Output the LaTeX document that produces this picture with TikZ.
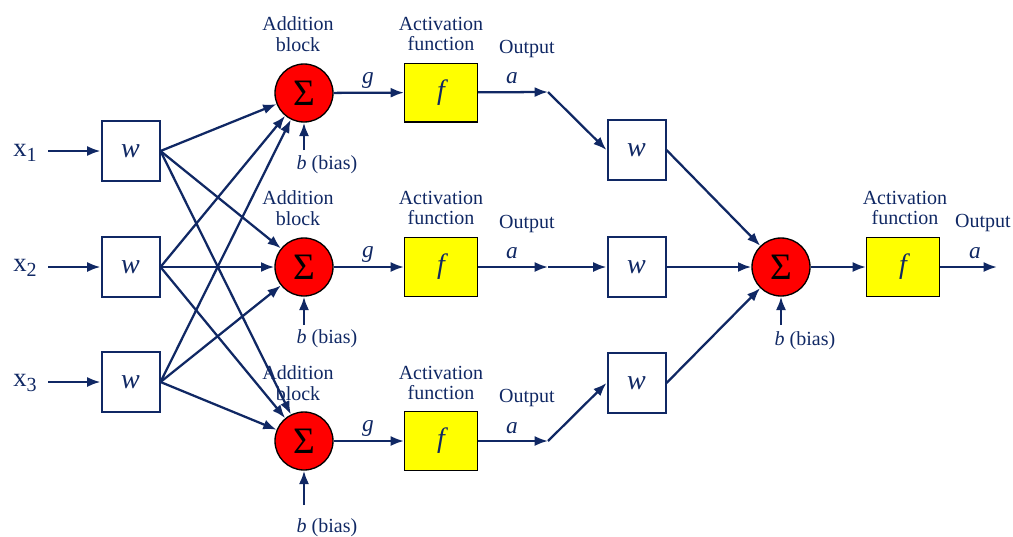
\documentclass[tikz,border=0pt]{standalone}
\usepackage{fontspec}
\setmainfont{Liberation Serif}
\usetikzlibrary{arrows.meta}
\definecolor{navy}{RGB}{16,40,100}
\definecolor{sumred}{RGB}{255,0,0}
\definecolor{fyel}{RGB}{255,255,0}
\tikzset{
  arr/.style={draw=navy,line width=1.7pt,-{Latex[length=10pt,width=7.5pt]}},
  wbox/.style={draw=navy,line width=1.5pt,fill=white,minimum width=43.5pt,minimum height=44.5pt,inner sep=0pt,text=navy,font=\fontsize{21}{21}\selectfont\itshape},
  fbox/.style={draw=black,line width=1pt,fill=fyel,minimum width=54.5pt,minimum height=44pt,inner sep=0pt,text=navy,font=\fontsize{21}{21}\selectfont\itshape},
  sumc/.style={circle,draw=black,line width=1pt,fill=sumred,minimum size=43.5pt,inner sep=0pt,font=\fontsize{28}{28}\selectfont},
  lbl/.style={text=navy,align=center,inner sep=0pt,font=\fontsize{15}{15.5}\selectfont},
  var/.style={text=navy,inner sep=0pt,font=\fontsize{17.5}{17.5}\selectfont\itshape},
  xin/.style={text=navy,inner sep=0pt,font=\fontsize{20}{20}\selectfont},
}
\newcommand{\xsub}[1]{x\raisebox{-0.35ex}{\fontsize{15}{15}\selectfont #1}}
\begin{document}
\begin{tikzpicture}[x=0.75pt,y=-0.75pt]
\useasboundingbox (0,0) rectangle (1013,536);
% inputs
\node[xin] (x1) at (25,153) {\xsub{1}};
\node[xin] (x2) at (25,268) {\xsub{2}};
\node[xin] (x3) at (25,383) {\xsub{3}};
\coordinate (xs1) at (48,151);
\coordinate (xs2) at (48,267);
\coordinate (xs3) at (48,382);
% left weight boxes
\node[wbox] (w1) at (130.5,151) {w};
\node[wbox] (w2) at (130.5,267) {w};
\node[wbox] (w3) at (130.5,382) {w};
% sums
\node[sumc] (s1) at (304,93) {Σ};
\node[sumc] (s2) at (304,267) {Σ};
\node[sumc] (s3) at (304,441) {Σ};
% activation boxes
\node[fbox] (f1) at (441,92.5) {f};
\node[fbox] (f2) at (441,267) {f};
\node[fbox] (f3) at (441,441) {f};
% elbows
\coordinate (e1) at (548,92);
\coordinate (e2) at (548,267);
\coordinate (e3) at (548,441);
% right weight boxes
\node[wbox] (v1) at (636.5,150) {w};
\node[wbox] (v2) at (636.5,267) {w};
\node[wbox] (v3) at (636.5,383) {w};
% output neuron
\node[sumc] (s4) at (781,267) {Σ};
\node[fbox] (f4) at (903,267) {f};
\coordinate (out) at (997,267);
% bias starts
\coordinate (b1) at (304,150);
\coordinate (b2) at (304,325);
\coordinate (b3) at (304,505);
\coordinate (b4) at (781,325);
% labels
\node[lbl] (ab1) at (298,34) {Addition\\block};
\node[lbl] (ab2) at (298,208) {Addition\\block};
\node[lbl] (ab3) at (298,383) {Addition\\block};
\node[lbl] (af1) at (441,34) {Activation\\function};
\node[lbl] (af2) at (441,208) {Activation\\function};
\node[lbl] (af3) at (441,383) {Activation\\function};
\node[lbl] (af4) at (905,208) {Activation\\function};
\node[lbl] (o1) at (527,49) {Output};
\node[lbl] (o2) at (527,224) {Output};
\node[lbl] (o3) at (527,398) {Output};
\node[lbl] (o4) at (983,223) {Output};
\node[var] (g1) at (368,80) {g};
\node[var] (g2) at (368,254) {g};
\node[var] (g3) at (368,428) {g};
\node[var] (a1) at (512,78) {a};
\node[var] (a2) at (512,253) {a};
\node[var] (a3) at (512,428) {a};
\node[var] (a4) at (975,253) {a};
\node[lbl] (bl1) at (327,165) {\textit{b} (bias)};
\node[lbl] (bl2) at (327,339) {\textit{b} (bias)};
\node[lbl] (bl3) at (327,528) {\textit{b} (bias)};
\node[lbl] (bl4) at (805,341) {\textit{b} (bias)};
% connectors
\draw[arr] (xs1) -- (w1);
\draw[arr] (xs2) -- (w2);
\draw[arr] (xs3) -- (w3);
\foreach \w in {w1,w2,w3}{
  \foreach \s in {s1,s2,s3}{
    \draw[arr] (\w.east) -- (\s);
  }
}
\draw[arr] (b1) -- (s1);
\draw[arr] (b2) -- (s2);
\draw[arr] (b3) -- (s3);
\draw[arr] (b4) -- (s4);
\draw[arr] (s1) -- (f1);
\draw[arr] (s2) -- (f2);
\draw[arr] (s3) -- (f3);
\draw[arr] (f1) -- (e1);
\draw[arr] (f2) -- (e2);
\draw[arr] (f3) -- (e3);
\draw[arr] (e1) -- (v1.west);
\draw[arr] (e2) -- (v2.west);
\draw[arr] (e3) -- (v3.west);
\draw[arr] (v1.east) -- (s4);
\draw[arr] (v2.east) -- (s4);
\draw[arr] (v3.east) -- (s4);
\draw[arr] (s4) -- (f4);
\draw[arr] (f4) -- (out);
\end{tikzpicture}
\end{document}
